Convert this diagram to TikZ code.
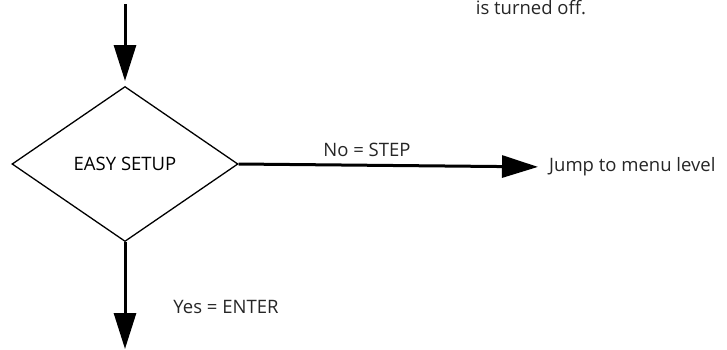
\documentclass[tikz,border=0pt]{standalone}
\usepackage{fontspec}
\setmainfont{Open Sans}
\usetikzlibrary{arrows.meta,positioning,shapes.geometric}

\begin{document}
\begin{tikzpicture}[x=1pt,y=-1pt,
  decide/.style={draw,diamond,line width=1.3pt,minimum width=226pt,
    minimum height=155pt,inner sep=0pt,font=\fontsize{18.5}{20}\selectfont},
  lbl/.style={inner sep=0pt,font=\fontsize{18.5}{20}\selectfont,text=black!85},
  flow/.style={-{Triangle[length=36pt,width=22pt]},line width=3pt}
]
  \useasboundingbox (0,0) rectangle (727,349);
  \node[decide] (setup) at (125,164) {EASY SETUP};
  \node[lbl,anchor=west] (jump) at (549,167) {Jump to menu level};
  \node[lbl,anchor=north] (off) at (531,0.5) {is turned off.};
  \node[lbl] (no) at (367,150) {No = STEP};
  \node[lbl] (yes) at (226,307) {Yes = ENTER};
  \coordinate (in) at (125,4);
  \coordinate (tip) at (125,81);
  \coordinate (out) at (125,349);
  \draw[flow] (in)--(tip);
  \draw[flow,shorten >=11pt] (setup.east)--(jump.west);
  \draw[flow] (setup.south)--(out);
\end{tikzpicture}
\end{document}
